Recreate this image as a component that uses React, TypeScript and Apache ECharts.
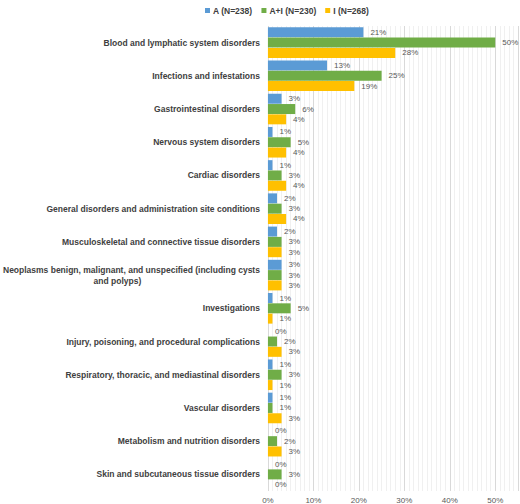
import React, { useEffect, useRef } from "react";
import * as echarts from "echarts";

const categories = [
  "Blood and lymphatic system disorders",
  "Infections and infestations",
  "Gastrointestinal disorders",
  "Nervous system disorders",
  "Cardiac disorders",
  "General disorders and administration site conditions",
  "Musculoskeletal and connective tissue disorders",
  "Neoplasms benign, malignant, and unspecified (including cysts\nand polyps)",
  "Investigations",
  "Injury, poisoning, and procedural complications",
  "Respiratory, thoracic, and mediastinal disorders",
  "Vascular disorders",
  "Metabolism and nutrition disorders",
  "Skin and subcutaneous tissue disorders",
];

const seriesNames = ["A (N=238)", "A+I (N=230)", "I (N=268)"];
const seriesColors = ["#5B9BD5", "#70AD47", "#FFC000"];

const valuesA = [21, 13, 3, 1, 1, 2, 2, 3, 1, 0, 1, 1, 0, 0];
const valuesAI = [50, 25, 6, 5, 3, 3, 3, 3, 5, 2, 3, 1, 2, 3];
const valuesI = [28, 19, 4, 4, 4, 4, 3, 3, 1, 3, 1, 3, 3, 0];

const FONT = "'Liberation Sans', Arial, sans-serif";

const App: React.FC = () => {
  const chartRef = useRef<HTMLDivElement>(null);

  useEffect(() => {
    const chart = echarts.init(chartRef.current!, undefined, { renderer: "svg" });
    const allValues = [valuesA, valuesAI, valuesI];

    const option: echarts.EChartsOption = {
      animation: false,
      textStyle: { fontFamily: FONT },
      legend: {
        top: 1,
        left: 200,
        icon: "rect",
        itemWidth: 5,
        itemHeight: 5,
        itemGap: 9,
        textStyle: {
          fontFamily: FONT,
          fontSize: 8.5,
          fontWeight: "bold",
          color: "#404040",
          padding: [0, 0, 0, -2],
        },
        data: seriesNames,
      },
      grid: { left: 266, right: 2, top: 26, bottom: 12 },
      xAxis: [
        {
          type: "value",
          min: 0,
          max: 55,
          interval: 10,
          axisLine: { show: false },
          axisTick: { show: false },
          axisLabel: {
            formatter: "{value}%",
            fontSize: 8,
            color: "#595959",
            margin: 5,
            showMaxLabel: false,
          },
          splitLine: { show: true, lineStyle: { color: "#d9d9d9", width: 1 } },
        },
        {
          // minor 1% gridlines
          type: "value",
          min: 0,
          max: 55,
          interval: 1,
          z: -1,
          axisLine: { show: false },
          axisTick: { show: false },
          axisLabel: { show: false },
          splitLine: { show: true, lineStyle: { color: "#f0f0f0", width: 1 } },
        },
      ],
      yAxis: {
        type: "category",
        inverse: true,
        data: categories,
        axisLine: { show: false },
        axisTick: { show: false },
        axisLabel: {
          margin: 8,
          fontSize: 8.5,
          fontWeight: "bold",
          color: "#404040",
          lineHeight: 11,
          formatter: (v: string) => {
            const parts = v.split("\n");
            if (parts.length < 2) return v;
            return `{a|${parts[0]}}\n{c|${parts[1]}}`;
          },
          rich: {
            a: { fontSize: 8.5, fontWeight: "bold", color: "#404040", lineHeight: 11 },
            c: {
              fontSize: 8.5,
              fontWeight: "bold",
              color: "#404040",
              lineHeight: 11,
              align: "center",
              padding: [0, 28, 0, 0],
            },
          },
        },
      },
      series: seriesNames.map((name, i) => ({
        name,
        type: "bar" as const,
        xAxisIndex: 0,
        data: allValues[i],
        barWidth: 10,
        barGap: "3%",
        itemStyle: { color: seriesColors[i] },
        label: {
          show: true,
          position: "right" as const,
          distance: 7,
          formatter: "{c}%",
          fontSize: 8,
          color: "#595959",
        },
      })),
    };

    chart.setOption(option);
    return () => {
      chart.dispose();
    };
  }, []);

  return (
    <div
      ref={chartRef}
      style={{ position: "absolute", left: 0, top: 0, width: "520px", height: "504px" }}
    />
  );
};

export default App;
